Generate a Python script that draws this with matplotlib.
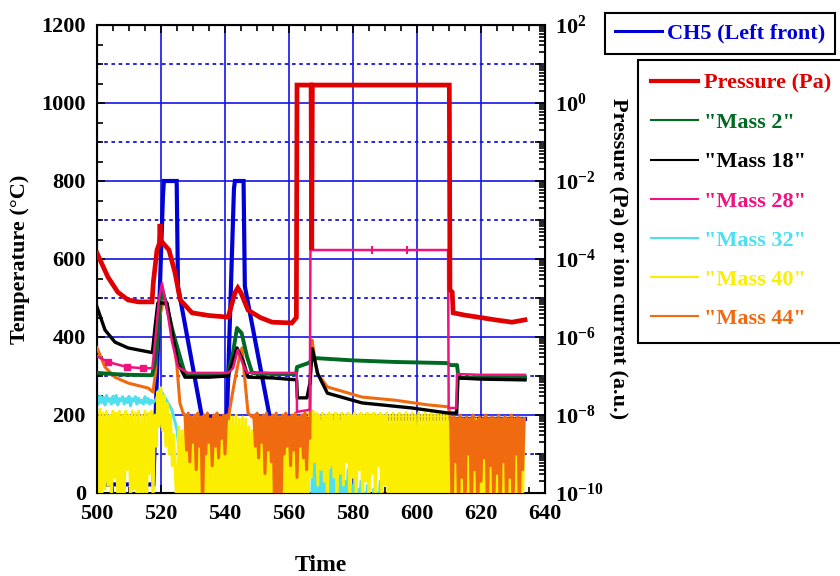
'''
plot.py

Temperature of CH5 and pressure / mass-spectrometer ion currents versus time.
'''

import numpy as np
import matplotlib
matplotlib.use('Agg')
import matplotlib.pyplot as plt
from matplotlib.lines import Line2D
from matplotlib.ticker import MultipleLocator, LogLocator, FuncFormatter, NullFormatter

# ---------------------------------------------------------------- data
# CH5 temperature (degC, left axis)
ch5_t = [500, 505.5, 517.6, 520.6, 520.9, 524.9, 525.3, 532.8, 540.6, 542.8,
         543.1, 545.8, 546.2, 554.1, 633.75]
ch5_T = [22, 22, 22, 760, 800, 800, 530, 195, 195, 780,
         800, 800, 530, 190, 190]

# right axis series given as log10 of the value
pr_t = [500, 503.4, 506.5, 509.7, 513, 517.2, 517.6, 518.75, 519.5, 519.7,
        519.9, 520.3, 522.5, 524.4, 526.0, 529.7, 535, 541, 543.1, 544.0,
        545.0, 547.2, 551, 554.7, 560.9, 562.3, 562.5, 566.9, 567.1, 567.3,
        610.1, 610.3, 611.0, 611.3, 615, 619, 624.4, 629.7, 633.75]
pr_lg = [-3.85, -4.46, -4.85, -5.05, -5.1, -5.1, -4.6, -3.77, -3.6, -3.1,
         -3.55, -3.56, -3.77, -4.36, -5.05, -5.38, -5.45, -5.49, -4.87, -4.74,
         -4.87, -5.31, -5.5, -5.62, -5.64, -5.5, 0.46, 0.46, -3.77, 0.46,
         0.46, -4.79, -4.85, -5.38, -5.44, -5.49, -5.56, -5.62, -5.56]

m2_t = [500, 505, 510, 517.2, 518.3, 519.6, 520.3, 521.5, 523.4, 525.9,
        527.5, 535, 541, 542.5, 543.75, 545.2, 546.9, 548.5, 555, 562.2,
        562.5, 566.0, 568.0, 580, 593, 609.7, 610.3, 612.5, 613.0, 633.75]
m2_lg = [-6.92, -6.95, -6.97, -6.98, -6.6, -5.3, -4.79, -5.1, -5.77, -6.5,
         -6.95, -6.98, -6.95, -6.4, -5.77, -5.9, -6.51, -6.92, -6.95, -6.95,
         -6.77, -6.67, -6.54, -6.6, -6.64, -6.67, -6.72, -6.72, -7.05, -7.05]

m18_t = [500, 502.5, 505.6, 509.7, 516, 517.3, 518.2, 519.0, 521.9, 523.75,
         525.3, 527.5, 535, 541, 542.5, 543.75, 545.6, 547.2, 555, 562.4,
         562.6, 565.6, 566.5, 567.3, 569, 572, 582.8, 598.4, 609.7, 610.5,
         612.4, 612.8, 620, 633.75]
m18_lg = [-5.23, -5.82, -6.13, -6.28, -6.38, -6.4, -5.7, -5.13, -5.13, -6.0,
          -6.67, -7.03, -7.03, -7.0, -6.6, -6.28, -6.6, -7.03, -7.05, -7.1,
          -7.56, -7.56, -7.2, -6.3, -6.95, -7.44, -7.69, -7.82, -7.95, -7.95,
          -7.95, -7.05, -7.08, -7.1]

m28_t = [500, 503.4, 509.4, 514.4, 517.3, 518.3, 519.4, 520.3, 521.9, 523.4,
         525.3, 528.4, 535, 541, 542.5, 544.0, 545.6, 547.0, 555, 562.4,
         562.5, 566.2, 566.5, 566.7, 586, 597, 609.7, 609.9, 612.3, 612.5,
         620, 633.75]
m28_lg = [-6.49, -6.64, -6.77, -6.8, -6.8, -6.0, -5.0, -4.62, -5.3, -6.1,
          -6.77, -6.92, -6.92, -6.92, -6.8, -6.33, -6.7, -6.92, -6.92, -6.92,
          -7.92, -7.87, -7.87, -3.77, -3.77, -3.77, -3.77, -7.82, -7.82, -6.95,
          -6.97, -6.97]
m28_squares = [1, 2, 3]
m28_bars = [24, 25]

# noisy records, sampled every 0.5 from the given start
m32_a_start = 500
m32_a = [-7.5, -7.72, -7.52, -7.68, -7.55, -7.74, -7.5, -7.65, -7.58, -7.72,
         -7.52, -7.68, -7.5, -7.74, -7.58, -7.64, -7.53, -7.72, -7.58, -7.68,
         -7.52, -7.76, -7.58, -7.64, -7.53, -7.72, -7.57, -7.68, -7.62, -7.72,
         -7.53, -7.68, -7.58, -7.72, -7.62, -7.68]
m32_mid_t = [518.5, 519.5, 520.5, 521.9, 523.4, 525.0, 526.5, 527.5, 566.5]
m32_mid = [-7.6, -7.35, -7.45, -7.65, -7.87, -8.38, -9.5, -10.5, -10.5]
m32_b_start = 567
m32_b = [-10.5, -8.9, -10.5, -9.0, -10.5, -8.95, -10.5, -9.3, -10.5, -9.1,
         -10.5, -9.4, -10.5, -9.2, -10.5, -9.6, -10.5, -9.3, -10.5, -9.5,
         -10.5, -9.7, -10.5, -9.4, -10.5, -9.8, -10.5, -9.6, -10.5, -9.9,
         -10.5, -9.7, -10.5, -10.0, -10.5, -9.8, -10.5, -10.1, -10.5, -9.9,
         -10.5, -10.0, -10.5, -9.7, -10.5, -10.2, -10.5, -10.1, -10.5, -10.3,
         -10.5]

m40_start = 500
m40 = [-7.9, -10.5, -7.85, -10.5, -7.95, -9.9, -7.9, -9.8, -8.0, -10.5,
       -7.9, -9.6, -7.95, -10.5, -7.9, -10.5, -8.0, -10.5, -7.9, -9.4,
       -8.0, -10.5, -7.9, -9.9, -7.95, -10.5, -7.9, -10.5, -8.0, -10.0,
       -7.9, -10.5, -7.95, -9.5, -7.9, -10.5, -8.0, -8.8, -7.4, -8.3,
       -7.3, -8.4, -7.5, -8.8, -7.7, -9.0, -8.0, -9.3, -8.5, -9.6,
       -10.5, -8.3, -10.5, -8.4, -10.5, -8.3, -10.5, -8.5, -10.5, -8.3,
       -10.5, -8.4, -10.5, -8.3, -10.5, -8.5, -10.5, -8.3, -10.5, -8.4,
       -10.5, -8.3, -10.5, -8.4, -10.5, -8.2, -10.5, -8.3, -10.5, -8.1,
       -10.5, -8.05, -10.5, -8.0, -10.5, -8.05, -10.5, -8.0, -10.5, -8.1,
       -10.5, -8.05, -10.5, -8.1, -10.5, -8.3, -10.5, -8.4, -10.5, -8.3,
       -10.5, -8.4, -10.5, -8.3, -10.5, -8.5, -10.5, -8.3, -10.5, -8.4,
       -10.5, -8.3, -10.5, -8.4, -10.5, -8.3, -10.5, -8.5, -10.5, -8.3,
       -10.5, -8.4, -10.5, -8.3, -10.5, -8.4, -10.5, -8.3, -10.5, -8.4,
       -10.5, -8.3, -10.5, -7.95, -9.6, -7.9, -9.2, -7.95, -9.8, -8.0,
       -9.4, -7.95, -9.7, -8.0, -10.5, -7.95, -9.3, -8.0, -9.6, -7.95,
       -10.5, -8.0, -9.5, -7.95, -9.8, -8.0, -9.2, -7.95, -10.5, -8.0,
       -9.6, -7.95, -10.5, -8.0, -9.4, -7.95, -10.5, -8.0, -9.7, -7.95,
       -10.5, -8.0, -9.5, -7.95, -10.5, -8.0, -9.3, -7.95, -10.5, -8.0,
       -9.8, -7.95, -10.5, -8.0, -10.5, -7.95, -10.5, -8.0, -10.5, -7.95,
       -10.5, -8.0, -10.5, -7.95, -10.5, -8.0, -10.5, -7.95, -10.5, -8.0,
       -10.5, -7.95, -10.5, -8.0, -10.5, -7.95, -10.5, -8.0, -10.5, -7.95,
       -10.5, -8.0, -10.5, -7.95, -10.5, -8.0, -10.5, -7.95, -10.5, -8.0,
       -10.5, -8.1, -10.5, -8.1, -10.5, -8.1, -10.5, -8.1, -10.5, -8.1,
       -10.5, -8.1, -10.5, -8.1, -10.5, -8.1, -10.5, -8.1, -10.5, -8.1,
       -10.5, -8.1, -10.5, -8.1, -10.5, -8.1, -10.5, -8.1, -10.5, -8.1,
       -10.5, -8.1, -10.5, -8.1, -10.5, -8.1, -10.5, -8.1, -10.5, -8.1,
       -10.5, -8.1, -10.5, -8.1, -10.5, -8.1, -10.5, -8.1]

m44_a_t = [500, 502.5, 505.6, 509.7, 516, 517.5, 518.3, 519.2, 520.6, 521.9,
           523.4, 525.0, 525.9, 526.9]
m44_a = [-6.28, -6.77, -7.03, -7.18, -7.31, -7.41, -6.9, -5.6, -5.13, -5.2,
         -5.74, -6.77, -7.69, -7.95]
m44_b_start = 527.5
m44_b = [-8.0, -8.9, -7.95, -9.2, -8.05, -8.7, -8.0, -9.4, -7.95, -8.8,
         -8.05, -10.5, -8.0, -9.0, -7.95, -8.7, -8.1, -9.3, -8.0, -8.8,
         -7.95, -9.1, -8.05, -8.6, -8.0, -9.0, -8.0]
m44_c_t = [541, 542, 543.1, 544.3, 545.3, 546.0, 547.2, 548.5]
m44_c = [-8.1, -7.6, -7.1, -6.6, -6.28, -6.92, -7.95, -8.05]
m44_d_start = 549
m44_d = [-8.0, -8.8, -7.95, -9.1, -8.05, -8.7, -8.0, -9.5, -7.95, -8.9,
         -8.05, -9.2, -8.0, -10.5, -7.95, -10.5, -8.05, -10.5, -8.0, -9.0,
         -7.95, -8.8, -8.05, -9.3, -8.0, -8.9, -7.95, -9.6, -8.05, -8.8,
         -8.0, -9.1, -7.95, -9.4, -8.1]
m44_e_t = [566.5, 566.9, 567.2, 568.75, 572, 582.8, 593.1, 603.4, 609.7, 610.2]
m44_e = [-8.6, -6.3, -6.08, -6.92, -7.28, -7.54, -7.62, -7.74, -7.79, -7.95]
m44_f_start = 610.5
m44_f = [-8.1, -10.5, -8.05, -9.2, -8.1, -10.5, -8.0, -9.6, -8.1, -10.5,
         -8.05, -9.0, -8.1, -10.5, -8.0, -9.4, -8.15, -10.5, -8.05, -9.7,
         -8.1, -9.1, -8.0, -10.5, -8.1, -9.3, -8.05, -10.5, -8.1, -9.5,
         -8.0, -10.5, -8.1, -9.2, -8.05, -10.5, -8.1, -9.6, -8.0, -10.5,
         -8.1, -9.0, -8.05, -10.5, -8.1, -9.4, -8.1]

legend_labels = ['Pressure (Pa)', '"Mass 2"', '"Mass 18"', '"Mass 28"',
                 '"Mass 32"', '"Mass 40"', '"Mass 44"']


def run(start, vals):
    # noisy records are stored as values every 0.5 time units
    return start + 0.5 * np.arange(len(vals)), np.asarray(vals)


def join(*parts):
    t = np.concatenate([np.asarray(p[0], dtype=float) for p in parts])
    v = np.concatenate([np.asarray(p[1], dtype=float) for p in parts])
    return t, 10.0 ** v


# ---------------------------------------------------------------- style
plt.rcParams['font.family'] = 'serif'
plt.rcParams['font.serif'] = ['Liberation Serif', 'DejaVu Serif']
plt.rcParams['font.weight'] = 'bold'
plt.rcParams['axes.labelweight'] = 'bold'
plt.rcParams['mathtext.fontset'] = 'custom'
plt.rcParams['mathtext.rm'] = 'Liberation Serif:bold'
plt.rcParams['mathtext.bf'] = 'Liberation Serif:bold'
plt.rcParams['mathtext.it'] = 'Liberation Serif:bold:italic'

c_blue = '#0000d4'
c_grid = '#1414e6'
c_red = '#e00000'
c_green = '#006a22'
c_black = '#000000'
c_pink = '#f0127e'
c_cyan = '#4fe0f0'
c_yellow = '#fcee00'
c_orange = '#f06a10'

fig = plt.figure(figsize=(8.4, 5.76), dpi=100)
ax = fig.add_axes([97 / 840, 83 / 576, 448 / 840, 468 / 576])

# grid (temperature axis)
for yv in np.arange(200, 1200, 200):
    ax.axhline(yv, color=c_grid, lw=1.2, zorder=0)
for yv in np.arange(100, 1200, 200):
    ax.axhline(yv, color=c_grid, lw=1.3, ls=(0, (2, 2)), zorder=0)
for xv in np.arange(520, 640, 20):
    ax.axvline(xv, color=c_grid, lw=1.2, zorder=0)

ax.plot(ch5_t, ch5_T, color=c_blue, lw=3.0, solid_joinstyle='miter')

ax.set_xlim(500, 640)
ax.set_ylim(0, 1200)
ax.xaxis.set_major_locator(MultipleLocator(20))
ax.xaxis.set_minor_locator(MultipleLocator(5))
ax.yaxis.set_major_locator(MultipleLocator(200))
ax.yaxis.set_minor_locator(MultipleLocator(50))
ax.tick_params(which='both', direction='in', top=True, right=False,
               labelsize=16, pad=8, width=1.2)
ax.tick_params(which='major', length=6)
ax.tick_params(which='minor', length=4)
for s in ax.spines.values():
    s.set_linewidth(1.5)

ax.set_xlabel('Time', fontsize=17, labelpad=22)
ax.set_ylabel('Temperature (°C)', fontsize=16, labelpad=8)

# log axis
ax2 = ax.twinx()
ax2.set_yscale('log')

t, v = join(run(m32_a_start, m32_a), (m32_mid_t, m32_mid), run(m32_b_start, m32_b))
ax2.plot(t, v, color=c_cyan, lw=2.2, zorder=1)
t, v = join(run(m40_start, m40))
ax2.plot(t, v, color=c_yellow, lw=2.0, zorder=2)
t, v = join((m44_a_t, m44_a), run(m44_b_start, m44_b), (m44_c_t, m44_c),
            run(m44_d_start, m44_d), (m44_e_t, m44_e), run(m44_f_start, m44_f))
ax2.plot(t, v, color=c_orange, lw=2.2, zorder=3)
t, v = join((m2_t, m2_lg))
ax2.plot(t, v, color=c_green, lw=2.8, zorder=4)
t, v = join((m18_t, m18_lg))
ax2.plot(t, v, color=c_black, lw=2.4, zorder=5)
t, v = join((m28_t, m28_lg))
ax2.plot(t, v, color=c_pink, lw=1.8, zorder=6)
ax2.plot(t[m28_squares], v[m28_squares], ls='none', marker='s', ms=5,
         color=c_pink, zorder=6)
ax2.plot(t[m28_bars], v[m28_bars], ls='none', marker='|', ms=6, mew=1.5,
         color=c_pink, zorder=6)
t, v = join((pr_t, pr_lg))
ax2.plot(t, v, color=c_red, lw=3.4, zorder=7, solid_joinstyle='miter')

ax2.set_ylim(1e-10, 1e2)
ax2.yaxis.set_major_locator(LogLocator(base=10, numticks=30))
ax2.yaxis.set_minor_locator(LogLocator(base=10, subs=np.arange(2, 10), numticks=30))
ax2.yaxis.set_minor_formatter(NullFormatter())


def even_decades(val, pos):
    e = int(round(np.log10(val)))
    return r'$\mathbf{10^{%d}}$' % e if e % 2 == 0 else ''


ax2.yaxis.set_major_formatter(FuncFormatter(even_decades))
ax2.tick_params(axis='y', which='both', direction='in', labelsize=16, pad=7, width=1.2)
ax2.tick_params(axis='y', which='major', length=7)
ax2.tick_params(axis='y', which='minor', length=4)
ax2.set_ylabel('Pressure (Pa) or ion current (a.u.)', fontsize=16,
               rotation=270, va='bottom', labelpad=4)

# legends
h_ch5 = Line2D([], [], color=c_blue, lw=2.2)
leg1 = fig.legend([h_ch5], ['CH5 (Left front)'], loc='upper left',
                  bbox_to_anchor=(605 / 840, 1 - 13 / 576), fontsize=16,
                  frameon=True, fancybox=False, framealpha=1, edgecolor='black',
                  handlelength=2.1, handletextpad=0.25, borderpad=0.45,
                  borderaxespad=0)
leg1.get_frame().set_linewidth(1.5)
leg1.get_texts()[0].set_color(c_blue)

colors2 = [c_red, c_green, c_black, c_pink, c_cyan, c_yellow, c_orange]
widths2 = [3.0, 1.5, 1.5, 1.5, 1.5, 1.5, 1.5]
handles2 = [Line2D([], [], color=c, lw=w) for c, w in zip(colors2, widths2)]
leg2 = fig.legend(handles2, legend_labels, loc='upper left',
                  bbox_to_anchor=(638 / 840, 1 - 60 / 576), fontsize=16,
                  frameon=True, fancybox=False, framealpha=1, edgecolor='black',
                  handlelength=2.1, handletextpad=0.25, borderpad=0.6,
                  labelspacing=0.84, borderaxespad=0)
leg2.get_frame().set_linewidth(1.5)
for txt, c in zip(leg2.get_texts(), colors2):
    txt.set_color(c)

fig.savefig('out.png', dpi=100)
